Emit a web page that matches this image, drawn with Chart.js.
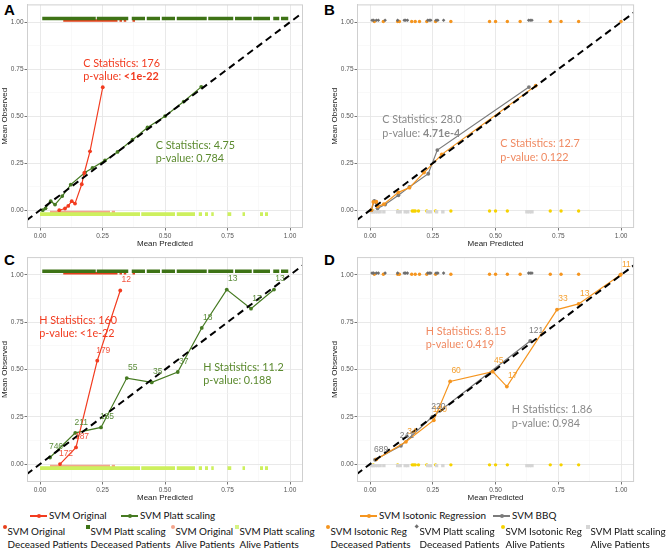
<!DOCTYPE html>
<html>
<head>
<meta charset="utf-8">
<script src="https://cdn.jsdelivr.net/npm/chart.js@4.4.0/dist/chart.umd.min.js"></script>
<style>
body{margin:0;width:667px;height:550px;position:relative;background:#fff;overflow:hidden;font-family:Lato,sans-serif}
canvas{position:absolute}
.tag{position:absolute;font:bold 15px "Liberation Sans",Arial,sans-serif;line-height:1;color:#000}
.leg{position:absolute;font-size:9.9px;color:#111;white-space:nowrap;line-height:1}
.sym{position:absolute}
</style>
</head>
<body>
<div class="tag" style="left:4px;top:2px">A</div>
<div class="tag" style="left:324px;top:2px">B</div>
<div class="tag" style="left:4px;top:252px">C</div>
<div class="tag" style="left:324px;top:252px">D</div>
<canvas id="pa" width="333" height="250" style="left:0;top:0"></canvas>
<canvas id="pb" width="333" height="250" style="left:330px;top:0"></canvas>
<canvas id="pc" width="333" height="254" style="left:0;top:250px"></canvas>
<canvas id="pd" width="333" height="254" style="left:330px;top:250px"></canvas>
<div id="legend"></div>
<script>
// ---- panel A : SVM original vs Platt scaling (C statistic)
const aRedX = [0.077,0.1,0.113,0.127,0.14,0.167,0.177,0.2,0.251]
const aRedY = [0.0,0.009,0.023,0.048,0.035,0.138,0.198,0.313,0.654]
const aGreenX = [0.011,0.022,0.043,0.06,0.089,0.123,0.18,0.21,0.26,0.31,0.37,0.43,0.5,0.575,0.645]
const aGreenY = [0.0,0.01,0.048,0.03,0.075,0.136,0.2,0.225,0.265,0.31,0.375,0.44,0.5,0.578,0.656]

// ---- panel C : same models, Hosmer-Lemeshow bins
const cRedX = [0.08,0.144,0.229,0.321]
const cRedY = [0.0,0.088,0.547,0.918]
const cRedN = ["172","187","179","12"]
const cGreenX = [0.04,0.141,0.244,0.347,0.447,0.551,0.647,0.747,0.844,0.936]
const cGreenY = [0.035,0.165,0.194,0.455,0.432,0.487,0.72,0.923,0.822,0.923]
const cGreenN = ["746","211","185","55","35","37","18","13","17","13"]

// rugs for A / C (ranges of predicted values)
const topPlatt = [[0.009,0.223],[0.227,0.353],[0.367,0.42],[0.427,0.48],[0.487,0.54],[0.547,0.667],[0.673,0.773],[0.78,0.847],[0.853,0.92],[0.933,0.957],[0.964,0.993]]
const topOrig = [[0.093,0.31],[0.318,0.328],[0.335,0.345],[0.37,0.38]]
const botPlatt = [[0,0.40],[0.405,0.54],[0.547,0.62],[0.635,0.648],[0.66,0.672],[0.685,0.695],[0.75,0.765],[0.81,0.82],[0.88,0.892],[0.9,0.912]]
const botOrig = [[0.04,0.28],[0.287,0.30]]

// ---- panel B : isotonic regression vs BBQ
const bOrangeX = [0.005,0.013,0.025,0.03,0.055,0.113,0.157,0.215,0.286,0.66]
const bOrangeY = [0.0,0.044,0.045,0.02,0.032,0.095,0.12,0.2,0.297,0.662]
const bGrayX = [0.005,0.017,0.03,0.06,0.113,0.157,0.232,0.268,0.633]
const bGrayY = [0.0,0.05,0.01,0.03,0.079,0.124,0.194,0.32,0.655]

// ---- panel D : bins
const dOrangeX = [0.025,0.143,0.254,0.319,0.489,0.545,0.745,0.831,0.997]
const dOrangeY = [0.025,0.118,0.232,0.437,0.489,0.41,0.817,0.847,1.0]
const dOrangeN = ["","34","140","60","45","17","33","13","11"]
const dGrayX = [0.02,0.123,0.248,0.638]
const dGrayY = [0.023,0.097,0.25,0.651]
const dGrayN = ["689","241","220","121"]

// rugs for B / D
const topIso = [0.017,0.053,0.11,0.117,0.166,0.18,0.197,0.226,0.261,0.322,0.476,0.5,0.547,0.598,0.718,0.761,0.831,1.0]
const topBbq = [0.008,0.014,0.025,0.033,0.06,0.11,0.136,0.142,0.149,0.23,0.236,0.242,0.263,0.27,0.293,0.632,0.638,0.645]
const botIso = [0.013,0.11,0.168,0.174,0.18,0.193,0.226,0.261,0.322,0.476,0.5,0.547,0.718,0.761,0.831]
const botBbq = [0.005,0.012,0.02,0.03,0.04,0.055,0.11,0.12,0.14,0.15,0.23,0.24,0.265,0.29,0.625,0.635,0.645]

const diagonal = [-0.2, 1.2]

const RED = '#f23b1f', GREEN = '#467a22', ORANGE = '#f5951f', GRAY = '#7b7b7b'

function pts(xs, ys) { return xs.map((x, i) => ({x: x, y: ys[i]})) }
function segs(list, y) {
    let out = []
    for (const s of list) { out.push({x: s[0], y: y}, {x: s[1], y: y}, {x: s[1], y: null}) }
    return out
}
function rugPts(xs, y) { return xs.map(x => ({x: x, y: y})) }

function series(data, color, counts, countColor) {
    return {type: 'line', data: data, borderColor: color, backgroundColor: color, borderWidth: 1.2,
        pointRadius: 1.9, pointHoverRadius: 1.9, pointBorderWidth: 0, order: 2,
        counts: counts, countColor: countColor}
}
function dash() {
    return {type: 'line', data: pts(diagonal, diagonal), borderColor: '#000', borderWidth: 2,
        borderDash: [7, 4.5], pointRadius: 0, order: 0}
}
function segRug(list, y, color, w) {
    return {type: 'line', data: segs(list, y), borderColor: color, borderWidth: w, borderCapStyle: 'butt',
        pointRadius: 0, spanGaps: false, order: 5}
}
function dotRug(xs, y, color, style, r) {
    return {type: 'scatter', data: rugPts(xs, y), backgroundColor: color, borderWidth: 0,
        pointStyle: style, pointRadius: r, order: 5}
}

const statNotes = {
    pa: [{x: 0.173, y: 0.78, c: RED, lines: [[['C Statistics: 176']], [['p-value: '], ['<1e-22', 1]]]},
         {x: 0.463, y: 0.345, c: '#5b8a2e', lines: [[['C Statistics: 4.75']], [['p-value: 0.784']]]}],
    pb: [{x: 0.049, y: 0.48, c: '#8a8a8a', lines: [[['C Statistics: 28.0']], [['p-value: '], ['4.71e-4', 1]]]},
         {x: 0.519, y: 0.353, c: '#f08a62', lines: [[['C Statistics: 12.7']], [['p-value: 0.122']]]}],
    pc: [{x: -0.003, y: 0.759, c: RED, lines: [[['H Statistics: 160']], [['p-value: <1e-22']]]},
         {x: 0.653, y: 0.512, c: '#5b8a2e', lines: [[['H Statistics: 11.2']], [['p-value: 0.188']]]}],
    pd: [{x: 0.222, y: 0.701, c: '#f08a62', lines: [[['H Statistics: 8.15']], [['p-value: 0.419']]]},
         {x: 0.565, y: 0.287, c: '#8a8a8a', lines: [[['H Statistics: 1.86']], [['p-value: 0.984']]]}]
}

const notePlugin = {
    id: 'notes',
    afterDatasetsDraw(chart) {
        const ctx = chart.ctx, xs = chart.scales.x, ys = chart.scales.y
        const a = chart.chartArea
        ctx.save()
        ctx.strokeStyle = '#cfcfcf'; ctx.lineWidth = 1
        ctx.strokeRect(a.left, a.top, a.right - a.left, a.bottom - a.top)
        // bin sizes next to the points
        chart.data.datasets.forEach((ds, i) => {
            if (!ds.counts) return
            const meta = chart.getDatasetMeta(i)
            ctx.font = '8.5px "Liberation Sans", Arial, sans-serif'
            ctx.fillStyle = ds.countColor
            ctx.textAlign = 'center'; ctx.textBaseline = 'middle'
            meta.data.forEach((p, j) => { if (ds.counts[j]) ctx.fillText(ds.counts[j], p.x + 6, p.y - 10.5) })
        })
        ctx.textAlign = 'left'; ctx.textBaseline = 'middle'
        for (const n of (statNotes[chart.canvas.id] || [])) {
            const x0 = xs.getPixelForValue(n.x), y0 = ys.getPixelForValue(n.y)
            ctx.fillStyle = n.c
            n.lines.forEach((ln, k) => {
                let cx = x0
                for (const part of ln) {
                    ctx.font = (part[1] ? 'bold ' : '') + '10.8px Lato, sans-serif'
                    ctx.fillText(part[0], cx, y0 + k * 13.4)
                    cx += ctx.measureText(part[0]).width
                }
            })
        }
        ctx.restore()
    }
}

function isMajor(v) { return Math.abs(v * 4 - Math.round(v * 4)) < 1e-6 }

function panel(id, padTop, padRight, sets) {
    const tickFont = {family: '"Liberation Sans", Arial, sans-serif', size: 6.5}
    const titleFont = {family: '"Liberation Sans", Arial, sans-serif', size: 8}
    const grid = {
        color: c => (c.tick && isMajor(c.tick.value)) ? '#e6e6e6' : '#f3f3f3',
        lineWidth: c => (c.tick && isMajor(c.tick.value)) ? 0.9 : 0.5,
        tickColor: c => (c.tick && isMajor(c.tick.value)) ? '#666' : 'rgba(0,0,0,0)',
        tickLength: 3
    }
    new Chart(document.getElementById(id), {
        data: {datasets: sets},
        options: {
            animation: false, responsive: false, events: [],
            layout: {padding: {left: 0, top: padTop, right: padRight, bottom: 0.5}},
            plugins: {legend: {display: false}, tooltip: {enabled: false}},
            scales: {
                x: {type: 'linear', min: -0.05, max: 1.05, grid: grid, border: {color: '#cfcfcf'},
                    ticks: {stepSize: 0.125, includeBounds: false, autoSkip: false, maxRotation: 0, padding: 1.5,
                        font: tickFont, color: '#555', callback: v => isMajor(v) ? v.toFixed(2) : ''},
                    title: {display: true, text: 'Mean Predicted', font: titleFont, color: '#222', padding: {top: 0, bottom: 1}},
                    afterFit: s => { s.height = 22 }},
                y: {type: 'linear', min: -0.092, max: 1.092, grid: grid, border: {color: '#cfcfcf'},
                    ticks: {stepSize: 0.125, includeBounds: false, autoSkip: false, padding: 1,
                        font: tickFont, color: '#555', callback: v => isMajor(v) ? v.toFixed(2) : ''},
                    title: {display: true, text: 'Mean Observed', font: titleFont, color: '#222', padding: 0},
                    afterFit: s => { s.width = 27.5 }}
            }
        },
        plugins: [notePlugin]
    })
}

function platt_rugs() {
    return [segRug(topPlatt, 1.02, '#3e7316', 3.6), segRug(topOrig, 1.009, '#e8401c', 2.6),
            segRug(botPlatt, -0.021, '#cdf05e', 3.8), segRug(botOrig, -0.009, '#f4a58c', 2.2)]
}
function iso_rugs() {
    return [dotRug(topBbq, 1.01, '#6f6f6f', 'rectRot', 1.8), dotRug(topIso, 1.004, ORANGE, 'circle', 1.7),
            dotRug(botBbq, -0.008, '#d5d5d5', 'rect', 2.4), dotRug(botIso, -0.004, '#f6d200', 'circle', 1.7)]
}

panel('pa', 3.6, 30.5, [dash(), series(pts(aRedX, aRedY), RED), series(pts(aGreenX, aGreenY), GREEN)].concat(platt_rugs()))
panel('pb', 3.6, 29.4, [dash(), series(pts(bOrangeX, bOrangeY), ORANGE), series(pts(bGrayX, bGrayY), GRAY)].concat(iso_rugs()))
panel('pc', 7.6, 30.5, [dash(), series(pts(cRedX, cRedY), RED, cRedN, '#f2553f'),
    series(pts(cGreenX, cGreenY), GREEN, cGreenN, '#5b8c3a')].concat(platt_rugs()))
panel('pd', 7.6, 29.4, [dash(), series(pts(dOrangeX, dOrangeY), ORANGE, dOrangeN, '#f5a030'),
    series(pts(dGrayX, dGrayY), GRAY, dGrayN, '#7a7a7a')].concat(iso_rugs()))

// ---- legend (html)
const leg = document.getElementById('legend')
function add(html) { leg.insertAdjacentHTML('beforeend', html) }
function lineKey(x, y, color, text) {
    add('<div class="sym" style="left:' + x + 'px;top:' + (y - 0.6) + 'px;width:17px;height:1.3px;background:' + color + '"></div>')
    add('<div class="sym" style="left:' + (x + 6.5) + 'px;top:' + (y - 2) + 'px;width:4px;height:4px;border-radius:2px;background:' + color + '"></div>')
    add('<div class="leg" style="left:' + (x + 19) + 'px;top:' + (y - 5) + 'px">' + text + '</div>')
}
function pointKey(x, y, color, shape, t1, t2) {
    let st = 'left:' + (x - 2) + 'px;top:' + (y - 2) + 'px;width:4px;height:4px;background:' + color + ';'
    if (shape == 'dot') st += 'border-radius:2px;'
    if (shape == 'diamond') st += 'transform:rotate(45deg);width:3.4px;height:3.4px;'
    add('<div class="sym" style="' + st + '"></div>')
    add('<div class="leg" style="left:' + (x + 2.5) + 'px;top:' + (y + 0) + 'px">' + t1 + '</div>')
    add('<div class="leg" style="left:' + (x + 2.5) + 'px;top:' + (y + 12.5) + 'px">' + t2 + '</div>')
}
lineKey(30, 516, RED, 'SVM Original')
lineKey(121, 516, GREEN, 'SVM Platt scaling')
lineKey(360, 516, ORANGE, 'SVM Isotonic Regression')
lineKey(493, 516, GRAY, 'SVM BBQ')
pointKey(5, 527, '#e8401c', 'dot', 'SVM Original', 'Deceased Patients')
pointKey(88, 527, '#3e7316', 'sq', 'SVM Platt scaling', 'Deceased Patients')
pointKey(173, 527, '#f4a58c', 'dot', 'SVM Original', 'Alive Patients')
pointKey(237, 527, '#d6f384', 'sq', 'SVM Platt scaling', 'Alive Patients')
pointKey(328, 527, ORANGE, 'dot', 'SVM Isotonic Reg', 'Deceased Patients')
pointKey(417, 527, '#6f6f6f', 'diamond', 'SVM Platt scaling', 'Deceased Patients')
pointKey(503, 527, '#f6d200', 'dot', 'SVM Isotonic Reg', 'Alive Patients')
pointKey(588, 527, '#d5d5d5', 'sq', 'SVM Platt scaling', 'Alive Patients')
</script>
</body>
</html>
